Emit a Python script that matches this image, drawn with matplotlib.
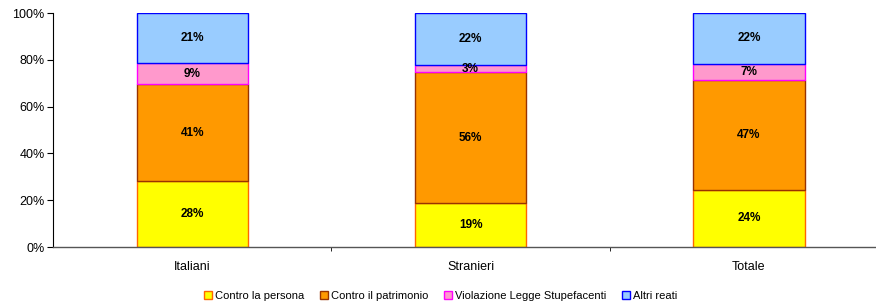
import matplotlib
matplotlib.use("Agg")
import matplotlib.pyplot as plt
from matplotlib.ticker import FuncFormatter, FixedLocator
from matplotlib.patches import Patch

categories = ["Italiani", "Stranieri", "Totale"]
series_names = ["Contro la persona", "Contro il patrimonio",
                "Violazione Legge Stupefacenti", "Altri reati"]
persona = [28.2, 18.8, 24.4]
patrimonio = [41.4, 55.9, 47.1]
stupefacenti = [9.0, 3.1, 6.9]
altri = [21.4, 22.2, 21.6]

face_colors = ["#FFFF00", "#FF9900", "#FF99CC", "#99CCFF"]
edge_colors = ["#FF6600", "#993300", "#FF00FF", "#0000FF"]

plt.rcParams['font.family'] = ['Liberation Sans', 'DejaVu Sans']

fig = plt.figure(figsize=(8.76, 3.05), dpi=100)
ax = fig.add_axes([53/876, 1 - 247/305, (888 - 53)/876, (247 - 13)/305])

x = list(range(len(categories)))
bottom = [0.0] * len(categories)
data = [persona, patrimonio, stupefacenti, altri]
for vals, fc, ec in zip(data, face_colors, edge_colors):
    ax.bar(x, vals, width=0.40, bottom=bottom, color=fc,
           edgecolor=ec, linewidth=1.0, zorder=2)
    for xi, v, b in zip(x, vals, bottom):
        ax.text(xi, b + v / 2, f"{round(v):d}%", ha="center", va="center",
                fontsize=8.5, fontweight="bold", color="black", zorder=3)
    bottom = [b + v for b, v in zip(bottom, vals)]

ax.set_xlim(-0.5, 2.5)
ax.set_ylim(0, 100)
ax.set_yticks([0, 20, 40, 60, 80, 100])
ax.yaxis.set_major_formatter(FuncFormatter(lambda v, p: f"{int(v)}%"))
ax.set_xticks(x)
ax.set_xticklabels(categories)
ax.xaxis.set_minor_locator(FixedLocator([0.5, 1.5]))
ax.tick_params(axis="x", which="major", length=0, pad=10, labelsize=9)
ax.tick_params(axis="x", which="minor", length=3, direction="out", color="black")
ax.tick_params(axis="y", length=4, direction="out", labelsize=9, pad=2)

for s in ["top", "right"]:
    ax.spines[s].set_visible(False)
ax.spines["left"].set_color("black")
ax.spines["left"].set_linewidth(0.8)
ax.spines["bottom"].set_color("#555555")
ax.spines["bottom"].set_linewidth(1.0)

handles = [Patch(facecolor=fc, edgecolor=ec, linewidth=1.0)
           for fc, ec in zip(face_colors, edge_colors)]
fig.legend(handles, series_names, loc="center", bbox_to_anchor=(441/876, 1 - 296/305),
           ncol=4, frameon=False, fontsize=8, handlelength=0.7, handleheight=0.7,
           handletextpad=0.3, columnspacing=1.4)

fig.savefig("out.png", dpi=100)
